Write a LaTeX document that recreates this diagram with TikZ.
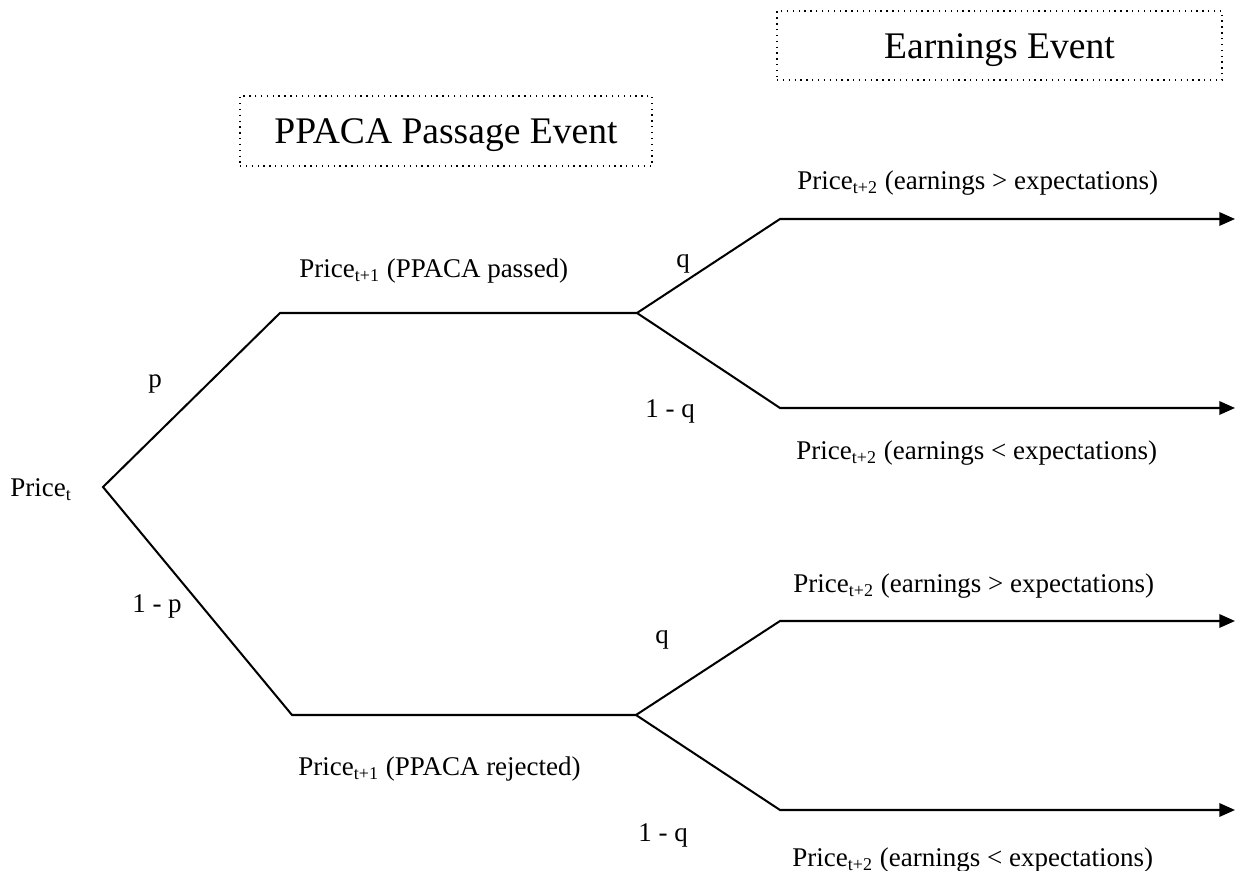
\documentclass[tikz,border=0pt]{standalone}
\usepackage{fontspec}
\setmainfont{Liberation Serif}
\usetikzlibrary{arrows.meta}
\begin{document}
\begin{tikzpicture}[x=0.4444pt,y=-0.4444pt,
  branch/.style={line width=0.9pt},
  leaf/.style={line width=0.9pt,-{Triangle[length=7pt,width=6pt]}},
  lbl/.style={inner sep=0pt,font=\fontsize{12pt}{14pt}\selectfont},
  evbox/.style={draw,dotted,line width=0.6pt,inner sep=0pt,text height=14.5pt,text depth=3pt,font=\fontsize{16.7pt}{19pt}\selectfont}]
\useasboundingbox (0,0) rectangle (1238,871);
% event boxes
\node[evbox,minimum width=445*0.4444pt,minimum height=69*0.4444pt] (earn) at (999.5,45.5) {Earnings Event};
\node[evbox,minimum width=412*0.4444pt,minimum height=70*0.4444pt] (ppaca) at (446,131) {PPACA Passage Event};
% tree vertices
\coordinate (root) at (103,487);
\coordinate (u1) at (280,313);
\coordinate (u2) at (637,313);
\coordinate (uu1) at (780,219);
\coordinate (uu2) at (1235,219);
\coordinate (ul1) at (780,408);
\coordinate (ul2) at (1235,408);
\coordinate (l1) at (292,715);
\coordinate (l2) at (636,715);
\coordinate (lu1) at (780,621);
\coordinate (lu2) at (1235,621);
\coordinate (ll1) at (780,810);
\coordinate (ll2) at (1235,810);
% branches
\draw[branch] (u2) -- (u1) -- (root) -- (l1) -- (l2);
\draw[leaf] (u2) -- (uu1) -- (uu2);
\draw[leaf] (u2) -- (ul1) -- (ul2);
\draw[leaf] (l2) -- (lu1) -- (lu2);
\draw[leaf] (l2) -- (ll1) -- (ll2);
% labels
\node[lbl,anchor=west] (pt) at (10,490) {Price\textsubscript{t}};
\node[lbl] (p) at (155,384) {p};
\node[lbl] (np) at (157,606) {1 - p};
\node[lbl,anchor=west] (pup) at (299,271) {Price\textsubscript{t+1} (PPACA passed)};
\node[lbl,anchor=west] (pdn) at (298,769) {Price\textsubscript{t+1} (PPACA rejected)};
\node[lbl] (q1) at (683,264) {q};
\node[lbl] (nq1) at (670,411) {1 - q};
\node[lbl] (q2) at (662,640) {q};
\node[lbl] (nq2) at (663,835) {1 - q};
\node[lbl,anchor=west] (e1) at (797,183) {Price\textsubscript{t+2} (earnings {>} expectations)};
\node[lbl,anchor=west] (e2) at (796,453) {Price\textsubscript{t+2} (earnings {<} expectations)};
\node[lbl,anchor=west] (e3) at (793,586) {Price\textsubscript{t+2} (earnings {>} expectations)};
\node[lbl,anchor=west] (e4) at (792,860) {Price\textsubscript{t+2} (earnings {<} expectations)};
\end{tikzpicture}
\end{document}
